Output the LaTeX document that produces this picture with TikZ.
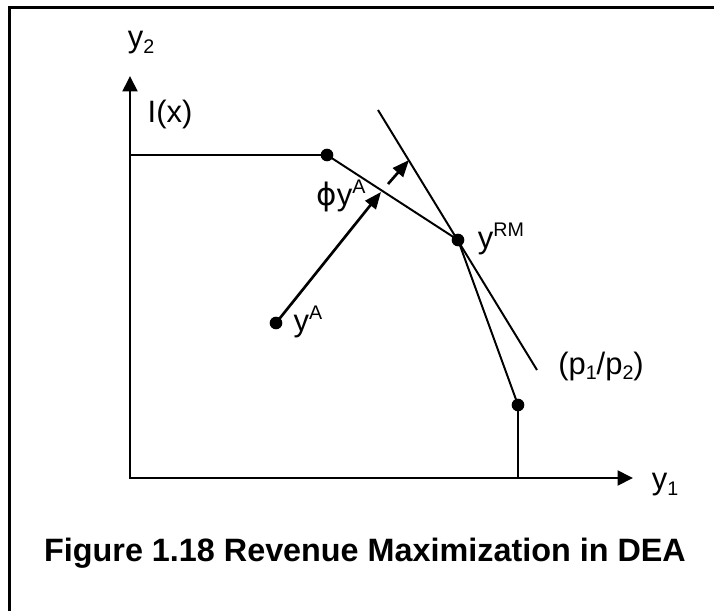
\documentclass[tikz,border=0pt]{standalone}
\usepackage{fontspec}
\setmainfont{Liberation Sans}
\newfontfamily\greekfont{DejaVu Sans}
\usetikzlibrary{arrows.meta, calc}

\newcommand{\supx}[1]{\raisebox{8pt}{\fontsize{14}{14}\selectfont #1}}
\newcommand{\subx}[1]{\raisebox{-4pt}{\fontsize{14}{14}\selectfont #1}}

\tikzset{
    axis/.style={line width=2pt, {Triangle[length=11pt,width=10.5pt]}-{Triangle[length=11pt,width=10.5pt]}},
    curve/.style={line width=1.4pt},
    vec/.style={line width=1.9pt, -{Triangle[length=12pt,width=9.5pt]}},
    dot/.style={circle, fill, inner sep=0pt, minimum size=9pt},
    lbl/.style={inner sep=0pt, font=\fontsize{22}{22}\selectfont}
}

\begin{document}
\begin{tikzpicture}[x=0.025cm, y=-0.025cm]
    \useasboundingbox (0,0) rectangle (714,611);
    % frame
    \draw[line width=2.4pt] (9.5,611) |- (714,7.5);

    % axes
    \coordinate (ytop) at (130,76);
    \coordinate (O) at (130,478);
    \coordinate (xend) at (633,478);
    \draw[axis] (ytop) |- (xend);
    \node[lbl] (ly2) at (141,43) {y\subx{2}};
    \node[lbl] (ly1) at (665,485) {y\subx{1}};
    \node[lbl] (lI) at (170,114) {I(x)};

    % frontier
    \node[dot] (P1) at (327,155) {};
    \node[dot] (RM) at (458,240) {};
    \node[dot] (P3) at (518,405) {};
    \coordinate (k0) at (130,155);
    \coordinate (k3) at (518,478);
    \draw[curve] (k0) -- (P1.center) -- (RM.center) -- (P3.center) -- (k3);

    % price line
    \coordinate (t1) at (378,110);
    \coordinate (t2) at (537,370);
    \draw[curve] (t1) -- (t2);

    % radial expansion
    \node[dot] (yA) at (276,323) {};
    \coordinate (phiA) at (381,192);
    \coordinate (tg) at (409,160);
    \draw[vec] (yA.center) -- (phiA);
    \draw[vec] ($(phiA)!0.25!(tg)$) -- (tg);

    \node[lbl] (lphi) at (341,196) {{\greekfont ϕ}y\supx{A}};
    \node[lbl] (lyA) at (308,322) {y\supx{A}};
    \node[lbl] (lRM) at (501,239) {y\supx{RM}};
    \node[lbl] (lp) at (601,366) {(p\subx{1}/p\subx{2})};

    \node[inner sep=0pt, font=\bfseries\fontsize{23}{23}\selectfont] (cap) at (365,553) {Figure 1.18 Revenue Maximization in DEA};
\end{tikzpicture}
\end{document}
